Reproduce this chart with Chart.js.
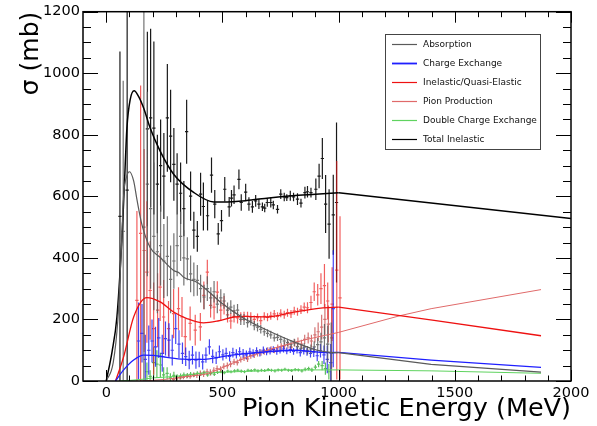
<!DOCTYPE html>
<html><head><meta charset="utf-8">
<script src="https://cdn.jsdelivr.net/npm/chart.js@4"></script>
<style>html,body{margin:0;padding:0;background:#fff;}</style>
</head><body>
<canvas id="c" width="597" height="426"></canvas>
<script>
// ---- axis ticks ----
const xTicks = [0, 500, 1000, 1500, 2000];
const yTicks = [0, 200, 400, 600, 800, 1000, 1200];

// ---- fitted curves ----
const totCurveX = [0, 25, 46, 67, 77, 89, 103, 120, 139, 161, 189, 232, 290, 376, 463, 500, 600, 700, 800, 900, 1000, 2000];
const totCurveY = [0, 95, 208, 456, 618, 822, 914, 943, 925, 887, 822, 747, 672, 613, 582, 582, 586, 595, 602, 607, 612, 528];
const absCurveX = [0, 30, 50, 65, 75, 88, 100, 118, 132, 153, 189, 232, 290, 313, 333, 390, 441, 492, 593, 693, 808, 909, 966, 1000, 1398, 1871];
const absCurveY = [0, 60, 200, 430, 607, 665, 680, 650, 590, 510, 434, 402, 359, 352, 337, 321, 290, 256, 203, 165, 127, 100, 93, 92, 54, 29];
const cexCurveX = [40, 75, 118, 161, 204, 261, 333, 406, 550, 693, 808, 952, 1000, 1398, 1871];
const cexCurveY = [0, 36, 68, 84, 83, 77, 71, 70, 85, 95, 100, 92, 93, 68, 44];
const inelCurveX = [40, 75, 118, 175, 232, 290, 347, 419, 480, 550, 600, 693, 808, 923, 1000, 1411, 1871];
const inelCurveY = [0, 79, 208, 271, 257, 224, 203, 189, 195, 208, 210, 208, 224, 237, 240, 197, 147];
const pipCurveX = [150, 250, 333, 441, 492, 593, 693, 808, 909, 1000, 1263, 1398, 1871];
const pipCurveY = [0, 5, 14, 25, 41, 73, 100, 125, 143, 158, 212, 235, 297];
const dcxCurveX = [60, 150, 200, 300, 406, 550, 700, 765, 900, 1000, 1398, 1871];
const dcxCurveY = [0, 5, 10, 15, 25, 30, 34, 36, 36, 36, 33, 25];

// ---- measured points with errors ----
const totX = [59,90,177,191,205,220,234,248,263,277,291,305,320,334,346,363,377,392,406,418,436,453,467,482,496,510,529,539,550,571,581,600,614,629,643,657,672,682,693,708,719,737,751,766,777,792,806,823,838,855,866,881,902,916,930,944,959,977,991];
const totY = [535,620,819,855,822,640,700,666,855,796,704,640,610,560,810,601,490,470,607,567,537,669,575,478,521,623,566,594,605,655,580,614,575,566,585,575,566,562,580,580,572,558,607,598,596,602,598,591,578,612,615,612,623,666,723,575,510,540,580];
const totE = [536,700,316,290,281,160,150,140,175,150,118,100,100,90,104,80,60,50,70,78,48,57,46,35,35,40,32,27,30,32,27,27,22,19,19,16,14,14,14,16,14,14,16,14,11,16,14,19,14,19,19,16,35,40,67,94,113,130,260];

const absX = [73,162,177,191,205,220,234,248,263,277,291,305,320,334,349,363,377,392,406,421,435,450,464,478,493,507,522,536,550,565,579,593,608,622,637,651,665,680,694,708,723,737,751,766,780,795,809,823,838,852,866,881,895,910,924,939,953,968];
const absY = [486,500,640,560,470,420,440,390,405,330,390,440,470,400,397,348,330,327,300,273,300,270,290,250,270,260,230,240,228,230,200,200,190,195,180,175,168,160,155,150,140,142,135,130,125,120,125,112,106,110,100,104,111,118,127,140,120,90];
const absE = [490,800,300,260,240,200,130,120,130,110,90,100,80,90,70,60,55,50,45,40,40,35,35,30,28,25,25,22,20,20,18,18,16,15,15,14,14,13,13,13,12,12,12,12,12,12,12,12,12,13,14,15,18,22,30,45,60,100];

const inelX = [132,148,163,175,189,204,221,232,247,268,290,311,326,340,361,383,405,420,435,449,464,478,493,507,522,536,550,565,579,593,608,622,637,651,665,680,694,708,723,737,751,766,780,795,809,823,838,852,866,881,895,910,924,939,953,972,992,1006];
const inelY = [262,480,424,354,294,170,230,305,208,170,219,235,208,144,187,165,176,278,354,246,240,289,230,246,215,195,210,205,208,210,210,208,200,206,196,210,207,212,218,210,220,215,222,218,228,225,232,240,238,255,290,280,300,310,260,250,360,270];
const inelE = [290,480,330,230,160,150,120,110,120,90,80,70,65,60,55,50,45,45,40,40,40,35,35,30,25,25,20,18,15,15,15,15,13,13,13,13,13,13,13,13,13,13,13,13,13,13,14,15,18,22,30,35,50,70,60,120,355,265];

const cexX = [139,154,168,183,197,212,226,241,255,270,284,299,313,328,342,357,371,386,400,415,429,444,458,473,487,502,516,531,545,560,574,589,603,618,632,647,661,676,690,705,719,734,748,763,777,792,806,821,835,850,864,879,893,908,922,937,951,966,977];
const cexY = [130,155,70,100,130,111,140,90,138,133,100,170,120,90,79,68,84,68,70,62,84,111,80,75,95,85,90,80,92,88,95,90,85,95,90,98,92,100,96,98,102,96,100,104,98,102,96,100,92,98,95,90,94,82,98,85,70,60,235];
const cexE = [125,95,80,80,70,65,65,60,55,55,50,50,45,35,30,30,30,28,25,25,25,25,22,20,20,18,18,17,16,15,15,14,14,13,13,12,12,12,12,12,11,11,11,11,11,11,11,11,12,12,13,14,16,18,22,30,45,60,190];

const pipX = [289,303,318,332,347,361,376,390,405,419,434,448,463,477,492,506,521,535,550,564,579,593,608,622,637,651,666,680,695,709,724,738,753,767,782,796,811,825,840,854,869,883,898,912,927,941,956,970];
const pipY = [5,8,10,12,15,14,20,18,25,22,30,28,35,40,38,48,50,55,62,60,70,75,72,82,85,90,92,95,100,103,100,108,112,115,118,110,124,128,120,135,140,130,150,160,175,200,185,140];
const pipE = [5,5,6,6,7,7,8,8,9,9,10,10,10,10,10,10,10,10,10,10,10,10,10,10,10,10,10,10,10,10,10,11,11,11,12,12,12,13,14,15,18,20,25,30,40,50,60,100];

const dcxX = [175,189,204,218,233,247,262,276,291,305,320,334,349,363,378,392,407,421,436,450,465,479,494,508,523,537,552,566,581,595,610,624,639,653,668,682,697,711,726,740,755,769,784,798,813,827,842,856,871,885,900,914,929,943,958];
const dcxY = [30,15,60,55,52,20,25,10,18,12,15,20,18,22,20,25,22,28,20,25,22,28,30,27,32,30,33,35,32,30,35,34,36,33,35,34,37,35,33,36,35,38,35,34,37,36,33,38,40,36,45,55,50,40,30];
const dcxE = [30,20,50,45,40,25,20,15,12,10,9,8,8,7,7,7,6,6,6,6,6,5,5,5,5,5,5,5,5,5,5,5,5,5,5,5,5,5,5,5,5,5,5,5,5,5,5,6,6,7,8,10,15,20,25];

const seriesLabels = ['Absorption', 'Charge Exchange', 'Inelastic/Quasi-Elastic', 'Pion Production', 'Double Charge Exchange', 'Total Inelastic'];

// ---- helpers that build library datasets from the arrays ----
const SPLIT = 1000; // fit curves are smooth below, straight segments above
function pts(xs, ys, keep) {
  const out = [];
  xs.forEach((x, i) => { if (keep(x)) out.push({x: x, y: ys[i]}); });
  return out;
}
function errSegs(xs, ys, es) {
  const d = [];
  const hw = 7;
  for (let i = 0; i < xs.length; i++) {
    d.push({x: xs[i], y: ys[i] - es[i]}, {x: xs[i], y: ys[i] + es[i]}, {x: xs[i], y: null});
    d.push({x: xs[i] - hw, y: ys[i]}, {x: xs[i] + hw, y: ys[i]}, {x: xs[i], y: null});
  }
  return d;
}
const curveColors = ['#5a5a5a', '#1f1fff', '#ee1111', '#e06a6a', '#5fd35f', '#000000'];
const curveWidths = [1.2, 1.3, 1.3, 1.0, 1.0, 1.5];
const errColors = ['rgba(90,90,90,0.85)', 'rgba(20,20,240,0.8)', 'rgba(235,25,25,0.7)', 'rgba(200,80,80,0.8)', 'rgba(40,170,40,0.75)', 'rgba(0,0,0,0.9)'];

const curves = [
  [absCurveX, absCurveY], [cexCurveX, cexCurveY], [inelCurveX, inelCurveY],
  [pipCurveX, pipCurveY], [dcxCurveX, dcxCurveY], [totCurveX, totCurveY]
];
const measured = [
  [absX, absY, absE], [cexX, cexY, cexE], [inelX, inelY, inelE],
  [pipX, pipY, pipE], [dcxX, dcxY, dcxE], [totX, totY, totE]
];

const datasets = [];
curves.forEach((c, i) => {
  datasets.push({
    label: seriesLabels[i], data: pts(c[0], c[1], x => x <= SPLIT), showLine: true,
    borderColor: curveColors[i], backgroundColor: curveColors[i], borderWidth: curveWidths[i],
    pointRadius: 0, cubicInterpolationMode: 'monotone', fill: false
  });
});
curves.forEach((c, i) => {
  datasets.push({
    label: seriesLabels[i] + ' (high)', data: pts(c[0], c[1], x => x >= SPLIT), showLine: true,
    borderColor: curveColors[i], borderWidth: curveWidths[i], pointRadius: 0, tension: 0, fill: false
  });
});
measured.forEach((m, i) => {
  datasets.push({
    label: seriesLabels[i] + ' data', data: errSegs(m[0], m[1], m[2]), showLine: true,
    borderColor: errColors[i], borderWidth: 1.2, pointRadius: 0, spanGaps: false, tension: 0, fill: false
  });
});

// ---- ROOT-like frame with inward ticks ----
const framePlugin = {
  id: 'frame',
  afterDatasetsDraw(chart) {
    const {ctx, chartArea: a, scales: {x, y}} = chart;
    ctx.save();
    ctx.strokeStyle = '#000';
    ctx.lineWidth = 1;
    ctx.beginPath();
    for (let v = y.min; v <= y.max + 0.01; v += 50) {
      const py = Math.round(y.getPixelForValue(v)) + 0.5;
      const len = (v % 200 === 0) ? 15 : 8;
      ctx.moveTo(a.left, py); ctx.lineTo(a.left + len, py);
      ctx.moveTo(a.right, py); ctx.lineTo(a.right - len, py);
    }
    for (let v = 0; v <= x.max + 0.01; v += 100) {
      const px = Math.round(x.getPixelForValue(v)) + 0.5;
      const len = (v % 500 === 0) ? 11 : 5.5;
      ctx.moveTo(px, a.bottom); ctx.lineTo(px, a.bottom - len);
      ctx.moveTo(px, a.top); ctx.lineTo(px, a.top + len);
    }
    ctx.stroke();
    ctx.lineWidth = 1.5;
    ctx.strokeRect(a.left, a.top, a.right - a.left, a.bottom - a.top);
    ctx.restore();
  }
};

// ---- ROOT-like legend box ----
const legendPlugin = {
  id: 'rootLegend',
  afterDraw(chart) {
    const ctx = chart.ctx;
    ctx.save();
    ctx.fillStyle = '#fff';
    ctx.fillRect(385, 34, 156, 115);
    ctx.strokeStyle = '#444';
    ctx.lineWidth = 1;
    ctx.strokeRect(385.5, 34.5, 155, 115);
    ctx.font = '9px "DejaVu Sans"';
    ctx.textBaseline = 'middle';
    ctx.textAlign = 'left';
    for (let i = 0; i < 6; i++) {
      const ds = chart.data.datasets[i];
      const yy = 44.5 + i * 19;
      ctx.strokeStyle = ds.borderColor;
      ctx.lineWidth = (i === 1) ? 1.8 : 1.2;
      ctx.beginPath(); ctx.moveTo(392, yy); ctx.lineTo(417, yy); ctx.stroke();
      ctx.fillStyle = '#111';
      ctx.fillText(ds.label, 423, yy + 0.5);
    }
    ctx.restore();
  }
};

Chart.defaults.font.family = '"DejaVu Sans", sans-serif';
Chart.defaults.color = '#000';

new Chart(document.getElementById('c'), {
  type: 'scatter',
  data: {datasets: datasets},
  options: {
    responsive: false, animation: false, devicePixelRatio: 1,
    layout: {padding: {top: 10, right: 26, left: 0, bottom: 0}},
    plugins: {legend: {display: false}, tooltip: {enabled: false}},
    scales: {
      x: {
        type: 'linear', min: -100, max: 2000,
        afterBuildTicks: s => { s.ticks = xTicks.map(v => ({value: v})); },
        afterFit: s => { s.height = 45; },
        grid: {display: false, drawTicks: false}, border: {display: false},
        ticks: {padding: 4, maxRotation: 0, autoSkip: false, font: {size: 14.5}, color: '#000',
                callback: v => String(v)},
        title: {display: true, text: 'Pion Kinetic Energy (MeV)', align: 'end', color: '#000',
                font: {size: 25.5}, padding: {top: 0, bottom: 1}}
      },
      y: {
        type: 'linear', min: 0, max: 1200,
        afterBuildTicks: s => { s.ticks = yTicks.map(v => ({value: v})); },
        afterFit: s => { s.width = 83; },
        grid: {display: false, drawTicks: false}, border: {display: false},
        ticks: {padding: 3, font: {size: 14.5}, color: '#000', callback: v => String(v)},
        title: {display: true, text: 'σ (mb)', align: 'end', color: '#000',
                font: {size: 25}, padding: {top: 16.5, bottom: 0}}
      }
    }
  },
  plugins: [framePlugin, legendPlugin]
});
</script>
</body></html>
